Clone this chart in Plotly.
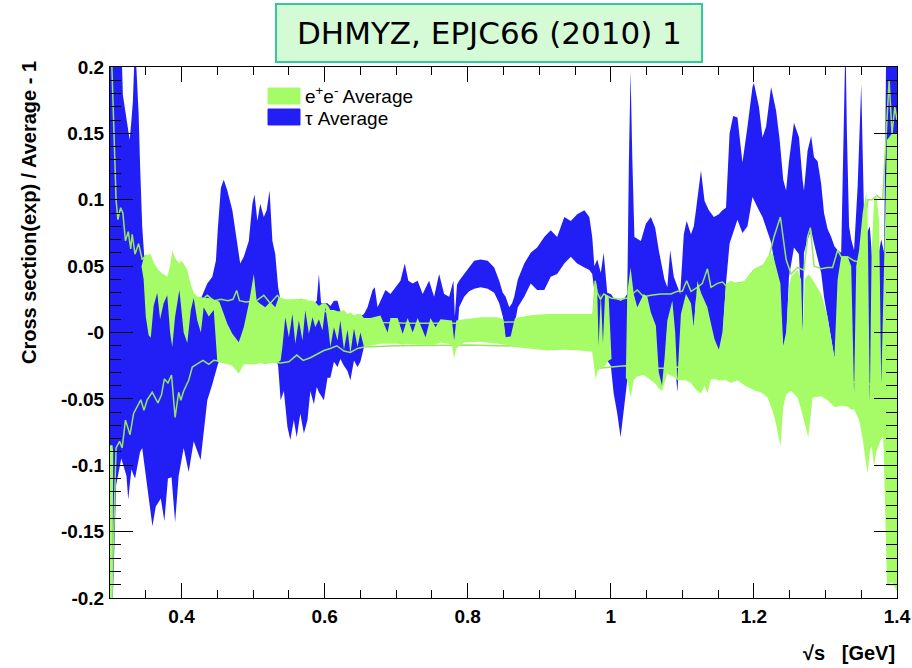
import plotly.graph_objects as go

# ---------------- data ----------------
# tau band (blue): x, lower edge, upper edge
blue_x = [0.300, 0.304, 0.3085, 0.3158, 0.318, 0.323, 0.3255, 0.3275, 0.330, 0.332,
          0.335, 0.339, 0.340, 0.342, 0.345, 0.348, 0.3497, 0.3593, 0.364, 0.371,
          0.376, 0.381, 0.386, 0.391, 0.396, 0.403, 0.410, 0.417, 0.4266, 0.431,
          0.436, 0.443, 0.448, 0.4508, 0.455, 0.459, 0.464, 0.471, 0.476, 0.482,
          0.487, 0.494, 0.499, 0.502, 0.506, 0.510, 0.515, 0.519, 0.523, 0.527,
          0.531, 0.535, 0.5385, 0.543, 0.548, 0.552, 0.557, 0.561, 0.566, 0.571,
          0.576, 0.580, 0.585, 0.589, 0.592, 0.595, 0.599, 0.604, 0.608, 0.613,
          0.618, 0.622, 0.627, 0.632, 0.636, 0.641, 0.646, 0.650, 0.655, 0.660,
          0.667, 0.670, 0.674, 0.678, 0.685, 0.692, 0.699, 0.706, 0.712, 0.717,
          0.723, 0.730, 0.737, 0.746, 0.753, 0.760, 0.767, 0.774, 0.780, 0.782,
          0.785, 0.788, 0.795, 0.802, 0.809, 0.818, 0.828, 0.837, 0.844, 0.849,
          0.853, 0.858, 0.862, 0.865, 0.870, 0.879, 0.888, 0.897, 0.907, 0.916,
          0.925, 0.935, 0.944, 0.953, 0.963, 0.970, 0.974, 0.977, 0.981, 0.986,
          0.990, 0.995, 1.000, 1.004, 1.009, 1.0136, 1.018, 1.023, 1.0253, 1.0276,
          1.030, 1.033, 1.042, 1.049, 1.056, 1.062, 1.067, 1.0715, 1.075, 1.079,
          1.083, 1.088, 1.093, 1.097, 1.102, 1.106, 1.112, 1.116, 1.119, 1.126,
          1.131, 1.137, 1.144, 1.151, 1.156, 1.161, 1.166, 1.171, 1.177, 1.184,
          1.191, 1.198, 1.200, 1.207, 1.212, 1.217, 1.224, 1.231, 1.236, 1.241,
          1.245, 1.249, 1.256, 1.263, 1.268, 1.270, 1.275, 1.280, 1.284, 1.289,
          1.294, 1.298, 1.303, 1.308, 1.3125, 1.317, 1.322, 1.326, 1.328, 1.330,
          1.333, 1.336, 1.340, 1.345, 1.350, 1.354, 1.358, 1.362, 1.366, 1.371,
          1.375, 1.378, 1.382, 1.385, 1.400]
blue_lo = [-0.200, -0.200, -0.115, -0.095, -0.100, -0.108, -0.126, -0.115, -0.103, -0.106,
           -0.110, -0.098, -0.095, -0.090, -0.087, -0.100, -0.108, -0.146, -0.131, -0.125,
           -0.142, -0.110, -0.109, -0.143, -0.108, -0.087, -0.105, -0.082, -0.096, -0.074,
           -0.051, -0.039, -0.030, -0.024, -0.018, -0.018, -0.018, -0.018, -0.018, -0.018,
           -0.018, -0.018, -0.018, -0.018, -0.018, -0.018, -0.018, -0.018, -0.018, -0.018,
           -0.018, -0.025, -0.051, -0.044, -0.071, -0.081, -0.066, -0.079, -0.061, -0.076,
           -0.066, -0.044, -0.054, -0.041, -0.045, -0.048, -0.051, -0.034, -0.034, -0.022,
           -0.026, -0.020, -0.025, -0.029, -0.036, -0.021, -0.026, -0.022, -0.011, -0.006,
           -0.006, -0.006, -0.006, -0.006, -0.006, -0.006, -0.006, -0.006, -0.006, -0.006,
           -0.006, -0.006, -0.006, -0.006, -0.006, -0.006, -0.006, -0.006, -0.008, -0.008,
           -0.004, 0.019, 0.027, 0.031, 0.033, 0.034, 0.033, 0.030, 0.022, 0.012,
           -0.005, -0.005, -0.004, 0.003, 0.019, 0.027, 0.037, 0.032, 0.032, 0.042,
           0.044, 0.052, 0.057, 0.052, 0.049, 0.047, 0.044, 0.032, -0.013, -0.013,
           -0.015, -0.021, -0.025, -0.046, -0.061, -0.079, -0.059, -0.036, -0.020, 0.000,
           0.000, 0.019, 0.017, 0.019, 0.005, -0.015, -0.034, -0.042, -0.035, 0.005,
           0.010, -0.010, -0.045, -0.010, 0.020, 0.020, 0.012, 0.004, 0.025, 0.020,
           0.018, 0.010, -0.005, -0.014, -0.005, 0.037, 0.067, 0.076, 0.085, 0.075,
           0.080, 0.102, 0.100, 0.092, 0.087, 0.080, 0.068, 0.045, 0.020, -0.011,
           -0.008, 0.042, 0.064, 0.059, -0.002, 0.060, 0.070, 0.077, 0.067, 0.055,
           0.045, 0.027, 0.010, -0.005, -0.019, -0.010, -0.010, -0.010, -0.010, -0.010,
           -0.020, -0.040, -0.048, -0.030, -0.020, -0.030, -0.040, -0.054, -0.040, -0.030,
           -0.035, -0.040, -0.020, 0.000, 0.000]
blue_hi = [0.22, 0.22, 0.22, 0.22, 0.179, 0.160, 0.152, 0.145, 0.160, 0.174,
           0.22, 0.179, 0.165, 0.127, 0.080, 0.056, 0.054, 0.045, 0.042, 0.040,
           0.040, 0.038, 0.040, 0.045, 0.045, 0.045, 0.040, 0.026, 0.025, 0.030,
           0.037, 0.042, 0.054, 0.079, 0.109, 0.115, 0.107, 0.092, 0.072, 0.052,
           0.057, 0.069, 0.097, 0.104, 0.084, 0.097, 0.087, 0.092, 0.107, 0.069,
           0.059, 0.034, 0.024, 0.022, 0.022, 0.022, 0.022, 0.022, 0.022, 0.022,
           0.022, 0.022, 0.022, 0.024, 0.044, 0.022, 0.022, 0.022, 0.020, 0.024,
           0.024, 0.016, 0.014, 0.012, 0.012, 0.012, 0.012, 0.012, 0.014, 0.019,
           0.032, 0.034, 0.019, 0.024, 0.032, 0.029, 0.034, 0.039, 0.052, 0.039,
           0.037, 0.039, 0.029, 0.039, 0.027, 0.044, 0.029, 0.027, 0.039, 0.012,
           0.036, 0.039, 0.044, 0.049, 0.054, 0.055, 0.054, 0.049, 0.039, 0.030,
           0.027, 0.019, 0.022, 0.027, 0.040, 0.052, 0.060, 0.064, 0.072, 0.077,
           0.072, 0.087, 0.084, 0.089, 0.092, 0.087, 0.072, 0.050, 0.055, 0.045,
           0.060, 0.030, 0.029, 0.026, 0.025, 0.024, 0.025, 0.029, 0.130, 0.197,
           0.132, 0.072, 0.069, 0.082, 0.087, 0.079, 0.062, 0.050, 0.040, 0.034,
           0.062, 0.042, 0.034, 0.029, 0.074, 0.084, 0.074, 0.080, 0.092, 0.122,
           0.099, 0.092, 0.087, 0.089, 0.092, 0.094, 0.150, 0.163, 0.162, 0.128,
           0.155, 0.185, 0.188, 0.170, 0.147, 0.155, 0.185, 0.167, 0.145, 0.115,
           0.107, 0.129, 0.158, 0.147, 0.115, 0.107, 0.137, 0.148, 0.132, 0.129,
           0.112, 0.090, 0.078, 0.072, 0.065, 0.062, 0.060, 0.150, 0.22, 0.150,
           0.080, 0.070, 0.062, 0.110, 0.187, 0.087, 0.075, 0.080, 0.050, 0.050,
           0.060, 0.070, 0.060, 0.22, 0.22]

# e+e- band (green fill): x, lower edge, upper edge
green_x = [0.300, 0.3035, 0.3045, 0.344, 0.347, 0.350, 0.354, 0.357, 0.361, 0.366,
           0.370, 0.375, 0.380, 0.384, 0.387, 0.391, 0.397, 0.399, 0.403, 0.408,
           0.413, 0.417, 0.422, 0.427, 0.431, 0.438, 0.445, 0.450, 0.453, 0.457,
           0.464, 0.471, 0.480, 0.487, 0.494, 0.501, 0.505, 0.510, 0.517, 0.524,
           0.531, 0.536, 0.5385, 0.541, 0.545, 0.550, 0.555, 0.559, 0.564, 0.569,
           0.573, 0.578, 0.583, 0.587, 0.592, 0.597, 0.601, 0.605, 0.608, 0.613,
           0.618, 0.622, 0.627, 0.632, 0.636, 0.641, 0.646, 0.650, 0.655, 0.664,
           0.678, 0.688, 0.692, 0.702, 0.709, 0.716, 0.723, 0.730, 0.741, 0.748,
           0.755, 0.762, 0.778, 0.781, 0.784, 0.795, 0.818, 0.842, 0.850, 0.853,
           0.860, 0.866, 0.888, 0.911, 0.935, 0.958, 0.974, 0.979, 0.981, 0.983,
           0.986, 0.989, 0.992, 0.997, 1.001, 1.021, 1.023, 1.0276, 1.032, 1.037,
           1.046, 1.051, 1.056, 1.063, 1.067, 1.0715, 1.075, 1.079, 1.086, 1.090,
           1.093, 1.098, 1.105, 1.112, 1.116, 1.121, 1.126, 1.131, 1.135, 1.140,
           1.145, 1.151, 1.156, 1.161, 1.168, 1.177, 1.187, 1.196, 1.203, 1.210,
           1.219, 1.226, 1.231, 1.237, 1.241, 1.245, 1.249, 1.252, 1.261, 1.266,
           1.268, 1.271, 1.276, 1.282, 1.294, 1.303, 1.3125, 1.317, 1.322, 1.331,
           1.336, 1.340, 1.343, 1.347, 1.352, 1.357, 1.359, 1.362, 1.3645, 1.368,
           1.371, 1.375, 1.378, 1.381, 1.384, 1.386, 1.393, 1.400]
green_lo = [-0.200, -0.200, -0.090, 0.050, 0.040, 0.012, -0.002, -0.004, 0.020, 0.030,
            0.010, 0.022, 0.028, 0.000, -0.011, 0.012, 0.032, 0.020, 0.000, -0.008,
            0.017, 0.026, 0.009, 0.000, 0.019, 0.012, 0.017, -0.022, -0.023, -0.023,
            -0.024, -0.025, -0.031, -0.024, -0.024, -0.024, -0.024, -0.023, -0.024, -0.023,
            -0.023, -0.022, -0.021, -0.011, 0.0115, -0.0035, 0.014, -0.0085, 0.009, -0.006,
            0.0165, -0.001, 0.0115, 0.004, 0.010, 0.0015, 0.019, 0.004, -0.011, 0.004,
            -0.006, 0.009, -0.013, 0.002, -0.016, 0.003, -0.011, 0.000, -0.011, -0.010,
            -0.0085, -0.009, -0.0085, -0.0085, -0.009, -0.0085, -0.009, -0.0095, -0.0095, -0.0095,
            -0.009, -0.0075, -0.009, -0.0195, -0.012, -0.0075, -0.007, -0.0085, -0.009, -0.009,
            -0.010, -0.011, -0.012, -0.0135, -0.013, -0.0135, -0.0145, -0.036, -0.029, -0.028,
            -0.027, -0.026, -0.025, -0.021, -0.020, -0.034, -0.036, -0.049, -0.036, -0.033,
            -0.032, -0.034, -0.036, -0.039, -0.042, -0.044, -0.038, -0.031, -0.033, -0.034,
            -0.036, -0.036, -0.036, -0.038, -0.041, -0.044, -0.046, -0.040, -0.046, -0.035,
            -0.035, -0.036, -0.036, -0.036, -0.038, -0.036, -0.040, -0.042, -0.044, -0.045,
            -0.049, -0.059, -0.069, -0.086, -0.056, -0.047, -0.045, -0.044, -0.049, -0.058,
            -0.061, -0.068, -0.079, -0.049, -0.048, -0.051, -0.056, -0.056, -0.055, -0.056,
            -0.058, -0.058, -0.062, -0.066, -0.080, -0.100, -0.106, -0.090, -0.085, -0.101,
            -0.090, -0.085, -0.080, -0.079, -0.150, -0.190, -0.188, -0.195]
green_hi = [-0.085, -0.085, -0.090, 0.050, 0.056, 0.058, 0.059, 0.059, 0.053, 0.049,
            0.045, 0.044, 0.042, 0.050, 0.062, 0.056, 0.052, 0.054, 0.052, 0.047,
            0.036, 0.030, 0.027, 0.027, 0.026, 0.026, 0.025, 0.024, 0.023, 0.017,
            0.0065, -0.001, -0.0073, 0.004, 0.0216, 0.044, 0.024, 0.0216, 0.019, 0.023,
            0.019, 0.027, 0.026, 0.026, 0.025, 0.025, 0.025, 0.025, 0.025, 0.025,
            0.025, 0.024, 0.024, 0.023, 0.020, 0.022, 0.022, 0.020, 0.017, 0.017,
            0.016, 0.016, 0.017, 0.014, 0.015, 0.013, 0.014, 0.014, 0.011, 0.011,
            0.0128, 0.000, 0.011, 0.011, -0.001, 0.011, 0.000, 0.011, -0.0035, 0.011,
            0.004, 0.010, 0.009, -0.006, 0.009, 0.010, 0.0115, 0.0115, 0.010, -0.0035,
            -0.003, 0.011, 0.013, 0.014, 0.014, 0.014, 0.014, 0.039, 0.032, -0.010,
            0.030, -0.008, 0.029, 0.027, -0.020, -0.034, 0.030, 0.049, 0.029, 0.019,
            0.029, 0.027, 0.015, 0.005, -0.030, -0.040, -0.020, 0.009, 0.024, 0.000,
            -0.036, 0.014, 0.029, 0.022, 0.004, 0.039, 0.030, 0.024, 0.019, 0.0065,
            -0.005, -0.013, 0.000, 0.037, 0.039, 0.037, 0.039, 0.044, 0.049, 0.049,
            0.057, 0.060, 0.050, 0.037, -0.010, 0.000, 0.035, 0.042, 0.047, 0.040,
            -0.002, 0.040, 0.044, 0.040, 0.029, 0.012, -0.019, 0.040, 0.057, 0.057,
            0.050, -0.046, 0.050, 0.062, 0.090, 0.106, 0.085, -0.053, 0.060, 0.100,
            0.104, 0.085, -0.040, 0.030, 0.080, 0.145, 0.150, 0.150]

# e+e- average error envelope (thin green lines)
upper_x = [0.3015, 0.3085, 0.311, 0.3149, 0.318, 0.3216, 0.3255, 0.329, 0.331, 0.335,
           0.340, 0.345, 0.350, 0.360, 0.370, 0.380, 0.390, 0.400, 0.410, 0.420,
           0.427, 0.436, 0.445, 0.455, 0.465, 0.472, 0.477, 0.481, 0.490, 0.505,
           0.515, 0.524, 0.534, 0.540, 0.555, 0.567, 0.580, 0.590, 0.599, 0.608,
           0.622, 0.636, 0.655, 0.678, 0.720, 0.780, 0.860, 0.950, 0.975, 0.978,
           0.981, 0.9856, 0.990, 1.000, 1.013, 1.023, 1.037, 1.046, 1.056, 1.070,
           1.084, 1.093, 1.100, 1.106, 1.112, 1.121, 1.128, 1.135, 1.140, 1.149,
           1.156, 1.163, 1.173, 1.187, 1.200, 1.219, 1.228, 1.237, 1.245, 1.252,
           1.261, 1.270, 1.275, 1.279, 1.284, 1.294, 1.303, 1.310, 1.317, 1.322,
           1.331, 1.340, 1.347, 1.354, 1.359, 1.365, 1.372, 1.380, 1.384, 1.389,
           1.393, 1.397, 1.400]
upper_y = [0.22, 0.100, 0.085, 0.094, 0.090, 0.069, 0.076, 0.063, 0.074, 0.059,
           0.067, 0.055, 0.058, 0.050, 0.045, 0.040, 0.035, 0.032, 0.029, 0.027,
           0.024, 0.028, 0.024, 0.025, 0.024, 0.025, 0.0316, 0.024, 0.023, 0.024,
           0.028, 0.022, 0.028, 0.024, 0.024, 0.025, 0.022, 0.020, 0.0165, 0.014,
           0.012, 0.010, 0.009, 0.0075, 0.007, 0.007, 0.008, 0.008, 0.009, 0.039,
           0.030, 0.025, 0.029, 0.026, 0.025, 0.026, 0.032, 0.027, 0.028, 0.029,
           0.029, 0.031, 0.031, 0.039, 0.031, 0.034, 0.037, 0.048, 0.034, 0.037,
           0.038, 0.034, 0.037, 0.038, 0.047, 0.052, 0.072, 0.087, 0.055, 0.044,
           0.049, 0.047, 0.072, 0.079, 0.050, 0.048, 0.049, 0.049, 0.062, 0.057,
           0.057, 0.054, 0.053, 0.070, 0.100, 0.100, 0.103, 0.100, 0.140, 0.190,
           0.150, 0.170, 0.160]
lower_x = [0.3015, 0.3085, 0.3134, 0.317, 0.3216, 0.328, 0.333, 0.338, 0.343, 0.3475,
           0.352, 0.359, 0.367, 0.372, 0.376, 0.381, 0.386, 0.391, 0.396, 0.399,
           0.403, 0.410, 0.415, 0.422, 0.430, 0.438, 0.445, 0.460, 0.480, 0.500,
           0.520, 0.5385, 0.550, 0.561, 0.570, 0.580, 0.590, 0.599, 0.608, 0.617,
           0.627, 0.636, 0.646, 0.655, 0.700, 0.800, 0.900, 0.976, 0.980, 1.000,
           1.020, 1.050, 1.080, 1.093, 1.120, 1.200, 1.300, 1.380, 1.385, 1.389,
           1.400]
lower_y = [-0.22, -0.087, -0.082, -0.087, -0.066, -0.077, -0.061, -0.056, -0.0507, -0.0585,
           -0.0507, -0.045, -0.053, -0.047, -0.035, -0.038, -0.032, -0.064, -0.045, -0.051,
           -0.044, -0.036, -0.026, -0.0236, -0.021, -0.024, -0.021, -0.022, -0.023, -0.022,
           -0.022, -0.023, -0.022, -0.017, -0.021, -0.019, -0.0163, -0.0136, -0.012, -0.010,
           -0.014, -0.015, -0.012, -0.011, -0.010, -0.0095, -0.0105, -0.011, -0.027, -0.026,
           -0.025, -0.027, -0.027, -0.026, -0.030, -0.033, -0.035, -0.040, -0.120, -0.190,
           -0.190]

y_tick_vals = [0.2, 0.15, 0.1, 0.05, 0.0, -0.05, -0.1, -0.15, -0.2]
y_tick_text = ["0.2", "0.15", "0.1", "0.05", "-0", "-0.05", "-0.1", "-0.15", "-0.2"]
x_tick_vals = [0.4, 0.6, 0.8, 1.0, 1.2, 1.4]
x_tick_text = ["0.4", "0.6", "0.8", "1", "1.2", "1.4"]

BLUE = "rgb(34,30,246)"
GREEN = "rgb(166,252,102)"
GREEN_LINE = "rgb(150,230,100)"


def band(x, lo, hi, color, name):
    return go.Scatter(
        x=list(x) + list(x)[::-1],
        y=list(hi) + list(lo)[::-1],
        fill="toself", fillcolor=color, mode="lines",
        line=dict(width=0, color=color), hoverinfo="skip",
        showlegend=False, name=name)


fig = go.Figure()
fig.add_trace(band(blue_x, blue_lo, blue_hi, BLUE, "τ Average"))
fig.add_trace(go.Scatter(x=upper_x, y=upper_y, mode="lines",
                         line=dict(color=GREEN_LINE, width=1.5),
                         hoverinfo="skip", showlegend=False))
fig.add_trace(go.Scatter(x=lower_x, y=lower_y, mode="lines",
                         line=dict(color=GREEN_LINE, width=1.5),
                         hoverinfo="skip", showlegend=False))
fig.add_trace(band(green_x, green_lo, green_hi, GREEN, "e+e- Average"))

tickfont = dict(family="Liberation Sans, Arial, Helvetica", size=19,
                color="black", weight="bold")
titlefont = dict(family="Liberation Sans, Arial, Helvetica", size=20,
                 color="black", weight="bold")

# plot frame at x 110..897, y 67..598 of the 912x668 page
fig.update_layout(
    width=912, height=668,
    margin=dict(l=110, r=15, t=67, b=70, autoexpand=False),
    paper_bgcolor="white", plot_bgcolor="white",
    showlegend=False,
    xaxis=dict(range=[0.3, 1.4], showgrid=False, zeroline=False, automargin=False,
               showline=True, linecolor="black", linewidth=1, mirror="ticks",
               ticks="inside", ticklen=15, tickwidth=1, tickcolor="black",
               tickmode="array", tickvals=x_tick_vals, ticktext=x_tick_text,
               tickfont=tickfont, ticklabelstandoff=1,
               minor=dict(ticks="inside", ticklen=8, tickmode="linear",
                          tick0=0.3, dtick=0.05, tickcolor="black",
                          showgrid=False)),
    yaxis=dict(range=[-0.2, 0.2], showgrid=False, zeroline=False, automargin=False,
               showline=True, linecolor="black", linewidth=1, mirror="ticks",
               ticks="inside", ticklen=23, tickwidth=1, tickcolor="black",
               tickmode="array", tickvals=y_tick_vals, ticktext=y_tick_text,
               tickfont=tickfont, ticklabelstandoff=1,
               minor=dict(ticks="inside", ticklen=11, tickmode="linear",
                          tick0=-0.2, dtick=0.01, tickcolor="black",
                          showgrid=False)),
)

# title box
fig.add_shape(type="rect", xref="paper", yref="paper",
              x0=(276 - 110) / 787, x1=(702 - 110) / 787,
              y0=(598 - 62) / 531, y1=(598 - 4) / 531,
              fillcolor="rgb(212,250,214)", line=dict(color="rgb(52,200,160)", width=2),
              layer="above")
fig.add_annotation(text="DHMYZ, EPJC66 (2010) 1", xref="paper", yref="paper",
                   x=(489 - 110) / 787, y=(598 - 33) / 531,
                   xanchor="center", yanchor="middle", showarrow=False,
                   font=dict(family="DejaVu Sans", size=31, color="black"))

# legend
fig.add_shape(type="rect", xref="paper", yref="paper",
              x0=(268 - 110) / 787, x1=(300 - 110) / 787,
              y0=(598 - 104) / 531, y1=(598 - 88) / 531,
              fillcolor=GREEN, line=dict(color=GREEN, width=1), layer="above")
fig.add_shape(type="rect", xref="paper", yref="paper",
              x0=(268 - 110) / 787, x1=(300 - 110) / 787,
              y0=(598 - 125) / 531, y1=(598 - 109) / 531,
              fillcolor=BLUE, line=dict(color=BLUE, width=1), layer="above")
legfont = dict(family="Liberation Sans, Arial, Helvetica", size=19, color="black")
fig.add_annotation(text="e<sup>+</sup>e<sup>-</sup> Average", xref="paper", yref="paper",
                   x=(303 - 110) / 787, y=(598 - 95) / 531,
                   xanchor="left", yanchor="middle", showarrow=False, font=legfont)
fig.add_annotation(text="τ Average", xref="paper", yref="paper",
                   x=(303 - 110) / 787, y=(598 - 118) / 531,
                   xanchor="left", yanchor="middle", showarrow=False, font=legfont)

# axis titles
fig.add_annotation(text="Cross section(exp) / Average - 1", xref="paper", yref="paper",
                   x=(29 - 110) / 787, y=(598 - 213) / 531, textangle=-90,
                   xanchor="center", yanchor="middle", showarrow=False,
                   font=titlefont)
fig.add_annotation(text="√s   [GeV]", xref="paper", yref="paper",
                   x=(897 - 110) / 787, y=(598 - 653) / 531,
                   xanchor="right", yanchor="middle", showarrow=False,
                   font=titlefont)

fig.write_html("out.html",
               config={"displayModeBar": False, "staticPlot": True},
               post_script="document.body.style.margin='0px';"
                           "document.body.style.overflow='hidden';")
